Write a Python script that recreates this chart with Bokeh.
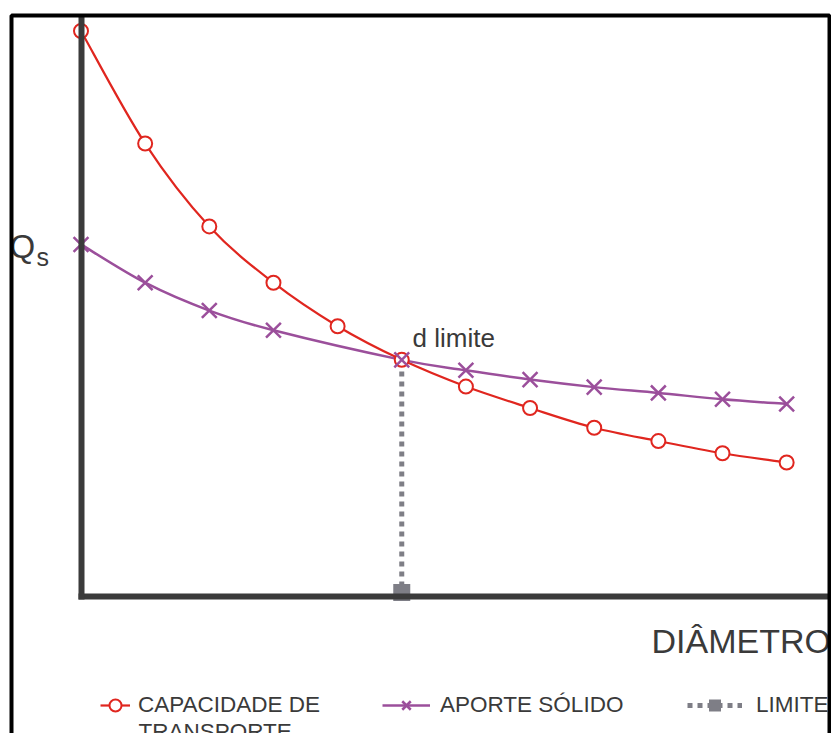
from bokeh.plotting import figure
from bokeh.models import (Range1d, LinearAxis, FixedTicker, Label, Legend,
                          LegendItem, BoxAnnotation)
from bokeh.embed import file_html
from bokeh.resources import INLINE

# ---------------- data ----------------
diametro = [0, 1, 2, 3, 4, 5, 6, 7, 8, 9, 10, 11]
capacidade_transporte = [97.5, 78.1, 63.8, 54.1, 46.6, 40.8, 36.2, 32.5, 29.1, 26.8, 24.7, 23.1]
aporte_diametro = [0, 1, 2, 3, 5, 6, 7, 8, 9, 10, 11]
aporte_solido = [60.7, 54.1, 49.3, 45.9, 40.8, 39.0, 37.4, 36.1, 35.1, 34.0, 33.2]
d_limite = [5, 5]
q_limite = [0, 40.8]

label_cap = "CAPACIDADE DE"
label_cap2 = "TRANSPORTE"
label_ap = "APORTE SÓLIDO"
label_lim = "LIMITE"
label_x = "DIÂMETRO"
label_d = "d limite"

# ---------------- styling ----------------
RED = "#e0261f"
PURPLE = "#9b4f9b"
GRAY = "#7e7e86"
AXIS = "#3b3b3b"
TEXT = "#3a3a3a"
FONT = "Liberation Sans"

W, H = 831, 733
X0, X1 = -1.2549, 11.699
Y0, Y1 = -23.62, 102.76


def px2x(px):
    return X0 + px / W * (X1 - X0)


def py2y(py):
    return Y1 - py / H * (Y1 - Y0)


def smooth_segments(xs, ys):
    """Catmull-Rom curve through the points, as cubic Bezier segments."""
    n = len(xs)
    out = dict(x0=[], y0=[], x1=[], y1=[], cx0=[], cy0=[], cx1=[], cy1=[])
    for i in range(n - 1):
        a = max(i - 1, 0)
        d = min(i + 2, n - 1)
        out["x0"].append(xs[i]); out["y0"].append(ys[i])
        out["x1"].append(xs[i + 1]); out["y1"].append(ys[i + 1])
        out["cx0"].append(xs[i] + (xs[i + 1] - xs[a]) / 6)
        out["cy0"].append(ys[i] + (ys[i + 1] - ys[a]) / 6)
        out["cx1"].append(xs[i + 1] - (xs[d] - xs[i]) / 6)
        out["cy1"].append(ys[i + 1] - (ys[d] - ys[i]) / 6)
    return out


p = figure(width=W, height=H, x_range=Range1d(X0, X1), y_range=Range1d(Y0, Y1),
           output_backend="svg", toolbar_location=None, min_border=0,
           x_axis_location=None, y_axis_location=None)
p.grid.visible = False
p.outline_line_color = None
p.background_fill_color = "white"
p.border_fill_color = "white"

# smooth curves
r_cap_line = p.bezier(line_color=RED, line_width=2.2,
                      **smooth_segments(diametro, capacidade_transporte))
r_ap_line = p.bezier(line_color=PURPLE, line_width=2.5,
                     **smooth_segments(aporte_diametro, aporte_solido))
r_lim_line = p.line(d_limite, q_limite, line_color=GRAY, line_width=5, line_dash="5 5")

# markers
r_lim_pt = p.scatter([d_limite[0]], [py2y(592) - py2y(596)], marker="square", size=17,
                     fill_color=GRAY, line_color=None)
r_cap_pts = p.scatter(diametro, capacidade_transporte, marker="circle", size=14,
                      line_color=RED, line_width=2, fill_color="white")
r_ap_pts = p.scatter(aporte_diametro, aporte_solido, marker="x", size=21,
                     line_color=PURPLE, line_width=2.5)

# axes (lines only)
ax_kw = dict(ticker=FixedTicker(ticks=[]), axis_line_width=6, axis_line_color=AXIS,
             major_tick_line_color=None, minor_tick_line_color=None,
             major_tick_out=0, major_tick_in=0, minor_tick_out=0, minor_tick_in=0,
             major_label_text_font_size="0px", major_label_standoff=0, axis_label=None)
xaxis = LinearAxis(fixed_location=0, bounds=(px2x(77.5), X1), **ax_kw)
yaxis = LinearAxis(fixed_location=0, bounds=(py2y(599), py2y(15)), **ax_kw)
p.add_layout(xaxis, "below")
p.add_layout(yaxis, "left")


def text_label(px, py_base, text, size):
    """Label whose baseline sits at page row py_base."""
    return Label(x=px2x(px), y=py2y(py_base - 0.35 * size), text=text, text_font=FONT,
                 text_font_size=f"{size}px", text_color=TEXT, text_baseline="middle")


# texts
p.add_layout(text_label(9, 258, "Q", 33))
p.add_layout(text_label(36, 265, "s", 25))
p.add_layout(text_label(412, 347, label_d, 26))
p.add_layout(text_label(651, 652, label_x, 34))
p.add_layout(text_label(138, 739, label_cap2, 22.5))

# legends (one per entry, so each glyph has its own width)
leg_kw = dict(glyph_height=30, padding=0, margin=0, border_line_color=None,
              background_fill_alpha=0, label_text_font=FONT, label_text_font_size="22.5px",
              label_text_color=TEXT)
leg1 = Legend(items=[LegendItem(label=label_cap, renderers=[r_cap_line, r_cap_pts])],
              location=(100, 13), glyph_width=30, label_standoff=8, **leg_kw)
leg2 = Legend(items=[LegendItem(label=label_ap, renderers=[r_ap_line, r_ap_pts])],
              location=(382, 13), glyph_width=48, label_standoff=10, **leg_kw)
leg3 = Legend(items=[LegendItem(label=label_lim, renderers=[r_lim_line, r_lim_pt])],
              location=(687, 13), glyph_width=55, label_standoff=14, **leg_kw)
for lg in (leg1, leg2, leg3):
    p.add_layout(lg)

# black frame around the picture
p.add_layout(BoxAnnotation(left=px2x(11), right=px2x(829), top=py2y(15), bottom=py2y(790),
                           fill_alpha=0, line_color="black", line_alpha=1.0, line_width=4))

open("out.html", "w").write(file_html(p, INLINE))
